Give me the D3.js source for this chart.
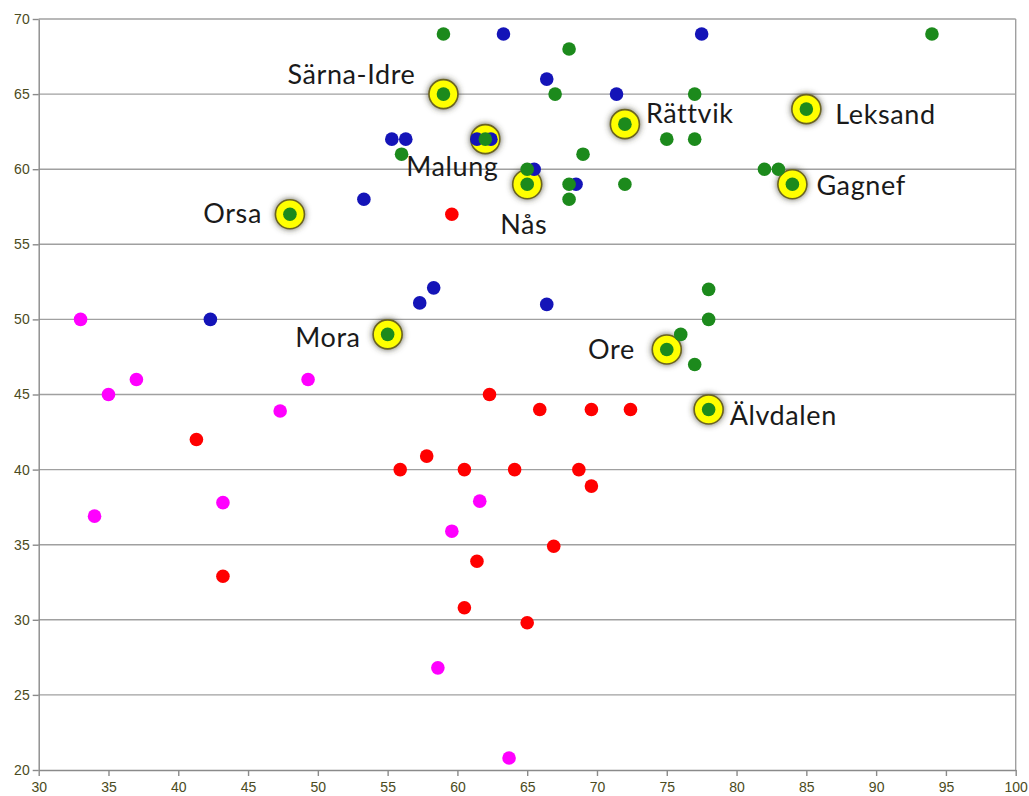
<!DOCTYPE html>
<meta charset="utf-8">
<style>
body { margin: 0; background: #fff; }
.grid line { stroke: #a0a0a0; stroke-width: 1.4px; }
.axis path, .axis line { stroke: #8a8a8a; stroke-width: 1.4px; }
.axis text { fill: #4b4b22; font-family: "Liberation Sans", Arial, sans-serif; font-size: 14px; }
.town { fill: #1a1a1a; font-family: Lato, "Open Sans", sans-serif; font-size: 27px; letter-spacing: 0.6px; }
</style>
<body>
<svg width="1029" height="796" id="chart"></svg>
<script src="https://d3js.org/d3.v7.min.js"></script>
<script>

// series values [x, y]
var magentaPts = [[33,50],[35,45],[37,46],[49.3,46],[47.3,43.9],[34,36.9],[43.2,37.8],[61.6,37.9],[59.6,35.9],[58.6,26.8],[63.7,20.8]];
var redPts = [[59.6,57],[62.3,45],[65.9,44],[69.6,44],[72.4,44],[41.3,42],[57.8,40.9],[55.9,40],[60.5,40],[64.1,40],[68.7,40],
    [69.6,38.9],[66.9,34.9],[43.2,32.9],[61.4,33.9],[60.5,30.8],[65,29.8]];
var bluePts = [[63.3,69],[77.5,69],[66.4,66],[71.4,65],[55.3,62],[56.3,62],[61.4,62],[62.4,62],[65.5,60],[68.5,59],[53.3,58],
    [58.3,52.1],[57.3,51.1],[66.4,51],[42.3,50]];
var greenPts = [[59,69],[68,68],[94,69],[77,65],[67,65],[75,62],[77,62],[56,61],[69,61],[65,60],[82,60],[83,60],[68,59],[72,59],[68,58],
    [78,52],[78,50],[76,49],[77,47]];

// highlighted municipalities
var towns = ["Särna-Idre", "Malung", "Nås", "Orsa", "Rättvik", "Leksand", "Gagnef", "Mora", "Ore", "Älvdalen"];
var townX = [59, 62, 65, 48, 72, 85, 84, 55, 75, 78];
var townY = [65, 62, 59, 57, 63, 64, 59, 49, 48, 44];

var xTicks = [30,35,40,45,50,55,60,65,70,75,80,85,90,95,100];
var yTicks = [20,25,30,35,40,45,50,55,60,65,70];

var svg = d3.select("svg"),
    plotLeft = 38.7, plotRight = 1015.7, plotTop = 19, plotBottom = 770;

var x = d3.scaleLinear().domain([30, 100]).range([plotLeft, plotRight]);
var y = d3.scaleLinear().domain([20, 70]).range([plotBottom, plotTop]);

// glow round the yellow rings
var filter = svg.append("defs").append("filter")
    .attr("id", "glow")
    .attr("x", "-0.6").attr("y", "-0.6")
    .attr("width", "2.2").attr("height", "2.2");
filter.append("feGaussianBlur").attr("in", "SourceAlpha").attr("stdDeviation", 3).attr("result", "blur");
filter.append("feFlood").attr("flood-color", "#3a3a2a").attr("flood-opacity", 0.8);
filter.append("feComposite").attr("in2", "blur").attr("operator", "in").attr("result", "shadow");
var merge = filter.append("feMerge");
merge.append("feMergeNode").attr("in", "shadow");
merge.append("feMergeNode").attr("in", "SourceGraphic");

// horizontal grid
svg.append("g")
    .attr("class", "grid")
    .selectAll("line")
    .data(yTicks.filter(function(d) { return d > 20; }))
    .enter().append("line")
    .attr("x1", plotLeft).attr("x2", plotRight)
    .attr("y1", function(d) { return y(d); })
    .attr("y2", function(d) { return y(d); });

// right border
svg.append("line")
    .attr("x1", plotRight).attr("x2", plotRight)
    .attr("y1", plotTop).attr("y2", plotBottom)
    .attr("stroke", "#a0a0a0").attr("stroke-width", 1.4);

var xAxis = svg.append("g")
    .attr("class", "axis")
    .attr("transform", "translate(0," + plotBottom + ")")
    .call(d3.axisBottom(x).tickValues(xTicks).tickSize(6).tickSizeOuter(0).tickPadding(4));
xAxis.selectAll("text").attr("dy", "0.85em");

svg.append("g")
    .attr("class", "axis")
    .attr("transform", "translate(" + plotLeft + ",0)")
    .call(d3.axisLeft(y).tickValues(yTicks).tickSize(6).tickSizeOuter(0).tickPadding(3));

// yellow rings underneath everything
svg.append("g")
    .selectAll("circle")
    .data(towns)
    .enter().append("circle")
    .attr("cx", function(d, i) { return x(townX[i]); })
    .attr("cy", function(d, i) { return y(townY[i]); })
    .attr("r", 14.5)
    .attr("fill", "#ffff00")
    .attr("stroke", "#6b6420")
    .attr("stroke-width", 1.6)
    .attr("filter", "url(#glow)");

function dots(pts, color) {
    svg.append("g")
        .selectAll("circle")
        .data(pts)
        .enter().append("circle")
        .attr("cx", function(d) { return x(d[0]); })
        .attr("cy", function(d) { return y(d[1]); })
        .attr("r", 6.8)
        .attr("fill", color);
}

dots(magentaPts, "#ff00ff");
dots(redPts, "#ff0000");
dots(bluePts, "#1414b8");
dots(greenPts.concat(towns.map(function(d, i) { return [townX[i], townY[i]]; })), "#1c8a1c");

// label placement relative to marker (px)
var place = {
    "Särna-Idre": [-28, -10, "end"],
    "Malung": [-33, 37, "middle"],
    "Nås": [-27, 50, "start"],
    "Orsa": [-28, 9, "end"],
    "Rättvik": [21, -1, "start"],
    "Leksand": [29, 15, "start"],
    "Gagnef": [24, 11, "start"],
    "Mora": [-27, 13, "end"],
    "Ore": [-32, 10, "end"],
    "Älvdalen": [21, 15, "start"]
};

svg.append("g")
    .selectAll("text")
    .data(towns)
    .enter().append("text")
    .attr("class", "town")
    .attr("x", function(d, i) { return x(townX[i]) + place[d][0]; })
    .attr("y", function(d, i) { return y(townY[i]) + place[d][1]; })
    .attr("text-anchor", function(d) { return place[d][2]; })
    .text(function(d) { return d; });

</script>
</body>
